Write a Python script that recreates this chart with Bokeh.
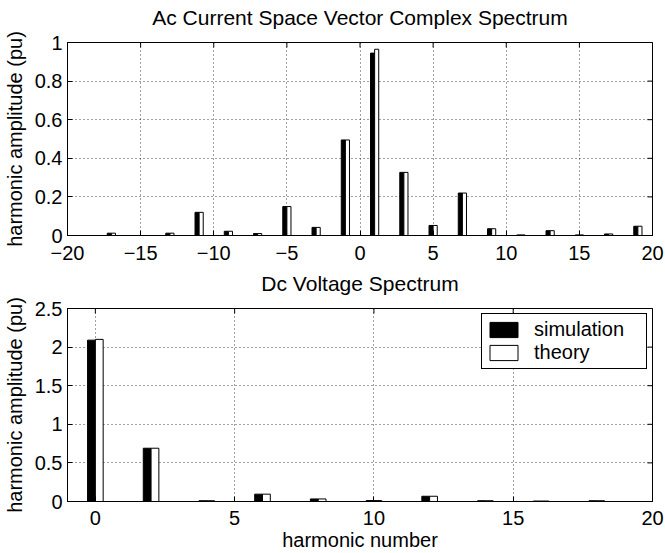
import math
from bokeh.plotting import figure
from bokeh.layouts import column
from bokeh.models import (ColumnDataSource, FixedTicker, Range1d, Legend, LegendItem,
                          LinearAxis, Title)
from bokeh.transform import dodge
from bokeh.embed import file_html
from bokeh.resources import INLINE

# ---- data: AC current space vector complex spectrum ----
ac_title = "Ac Current Space Vector Complex Spectrum"
ac_harm = [-17, -13, -11, -9, -7, -5, -3, -1, 1, 3, 5, 7, 9, 11, 13, 15, 17, 19]
ac_sim = [0.012, 0.012, 0.12, 0.022, 0.01, 0.15, 0.042, 0.495, 0.945, 0.327, 0.052, 0.22, 0.035, 0.003, 0.025, 0.003, 0.008, 0.048]
ac_theo = [0.012, 0.012, 0.12, 0.022, 0.01, 0.15, 0.042, 0.495, 0.965, 0.327, 0.052, 0.22, 0.035, 0.003, 0.025, 0.003, 0.008, 0.048]

# ---- data: DC voltage spectrum ----
dc_title = "Dc Voltage Spectrum"
dc_harm = [0, 2, 4, 6, 8, 10, 12, 14, 16, 18]
dc_sim = [2.09, 0.69, 0.01, 0.095, 0.033, 0.012, 0.068, 0.01, 0.006, 0.01]
dc_theo = [2.10, 0.69, 0.01, 0.095, 0.033, 0.012, 0.068, 0.01, 0.006, 0.01]

top_xticks = [-20, -15, -10, -5, 0, 5, 10, 15, 20]
top_xlabels = ["\u221220", "\u221215", "\u221210", "\u22125", "0", "5", "10", "15", "20"]
top_yticks = [0, 0.2, 0.4, 0.6, 0.8, 1]
top_ylabels = ["0", "0.2", "0.4", "0.6", "0.8", "1"]
bot_xticks = [0, 5, 10, 15, 20]
bot_xlabels = ["0", "5", "10", "15", "20"]
bot_yticks = [0, 0.5, 1, 1.5, 2, 2.5]
bot_ylabels = ["0", "0.5", "1", "1.5", "2", "2.5"]

FONT = "Liberation Sans"
BW = 0.28


def style(p, title, xticks, xlabels, yticks, ylabels, x_standoff):
    p.outline_line_color = "black"
    p.outline_line_alpha = 1
    p.background_fill_color = "white"
    p.border_fill_color = "white"
    for ax in p.xaxis + p.yaxis:
        ax.major_label_text_font = FONT
        ax.major_label_text_font_size = "20px"
        ax.major_label_text_color = "black"
        ax.axis_label_text_font = FONT
        ax.axis_label_text_font_size = "20px"
        ax.axis_label_text_font_style = "normal"
        ax.axis_label_text_color = "black"
        ax.axis_line_color = "black"
        ax.major_tick_line_color = "black"
        ax.major_tick_in = 5
        ax.major_tick_out = 0
        ax.minor_tick_line_color = None
    p.xaxis.ticker = FixedTicker(ticks=xticks)
    p.xaxis.major_label_overrides = {t: l for t, l in zip(xticks, xlabels)}
    p.yaxis.ticker = FixedTicker(ticks=yticks)
    p.yaxis.major_label_overrides = {t: l for t, l in zip(yticks, ylabels)}
    p.xaxis.major_label_standoff = x_standoff
    p.yaxis.major_label_standoff = 5
    p.yaxis.axis_label_standoff = 6
    p.xaxis.axis_label_standoff = 1
    p.xaxis.axis_label_text_line_height = 0.9
    p.xgrid.ticker = FixedTicker(ticks=xticks)
    p.ygrid.ticker = FixedTicker(ticks=yticks)
    for g in (p.xgrid, p.ygrid):
        g.grid_line_color = "black"
        g.grid_line_alpha = 0.75
        g.grid_line_dash = "1 3"
        g.grid_line_width = 1
    xr, yr = p.x_range, p.y_range
    # box-style tick marks on the top and right frame edges
    p.scatter(x=xticks, y=[yr.end] * len(xticks), marker="dash", angle=math.pi / 2,
              size=10, line_color="black", line_width=1)
    p.scatter(x=[xr.end] * len(yticks), y=yticks, marker="dash",
              size=10, line_color="black", line_width=1)
    # invisible spacer between frame and title, then the title itself
    spacer = LinearAxis(ticker=FixedTicker(ticks=xticks[:1]), major_tick_out=12,
                        major_tick_in=0, minor_tick_out=0, minor_tick_in=0,
                        axis_line_color=None, major_tick_line_color=None,
                        minor_tick_line_color=None, major_label_text_color=None,
                        major_label_text_font_size="1px", major_label_standoff=0)
    p.add_layout(spacer, "above")
    p.add_layout(Title(text=title, text_font=FONT, text_font_size="21px",
                       text_font_style="normal", align="center", vertical_align="top",
                       standoff=0, text_color="black"), "above")


# ---- top figure ----
src_ac = ColumnDataSource(dict(x=ac_harm, sim=ac_sim, theo=ac_theo))
p1 = figure(width=664, height=268, output_backend="svg", toolbar_location=None,
            title=None, x_range=Range1d(-20, 20), y_range=Range1d(0, 1),
            min_border_left=65, min_border_right=12, min_border_top=42, min_border_bottom=33)
p1.vbar(x=dodge("x", -BW / 2, range=p1.x_range), top="sim", width=BW, bottom=0,
        source=src_ac, fill_color="black", line_color="black")
p1.vbar(x=dodge("x", BW / 2, range=p1.x_range), top="theo", width=BW, bottom=0,
        source=src_ac, fill_color="white", line_color="black")
p1.yaxis.axis_label = "harmonic amplitude (pu)"
style(p1, ac_title, top_xticks, top_xlabels, top_yticks, top_ylabels, 10)

# ---- bottom figure ----
src_dc = ColumnDataSource(dict(x=dc_harm, sim=dc_sim, theo=dc_theo))
p2 = figure(width=664, height=285, output_backend="svg", toolbar_location=None,
            title=None, x_range=Range1d(-1, 20), y_range=Range1d(0, 2.5),
            min_border_left=65, min_border_right=12, min_border_top=40, min_border_bottom=51)
r_sim = p2.vbar(x=dodge("x", -BW / 2, range=p2.x_range), top="sim", width=BW, bottom=0,
                source=src_dc, fill_color="black", line_color="black")
r_theo = p2.vbar(x=dodge("x", BW / 2, range=p2.x_range), top="theo", width=BW, bottom=0,
                 source=src_dc, fill_color="white", line_color="black")
p2.yaxis.axis_label = "harmonic amplitude (pu)"
p2.xaxis.axis_label = "harmonic number"
style(p2, dc_title, bot_xticks, bot_xlabels, bot_yticks, bot_ylabels, 9)

legend = Legend(items=[LegendItem(label="simulation", renderers=[r_sim]),
                       LegendItem(label="theory", renderers=[r_theo])],
                location="top_right", label_text_font=FONT, label_text_font_size="20px",
                label_text_color="black", glyph_width=35, glyph_height=19, label_height=19,
                label_width=108, border_line_color="black", border_line_alpha=1, spacing=0,
                padding=4, margin=5, label_standoff=13, background_fill_alpha=1)
p2.add_layout(legend)

layout = column(p1, p2, spacing=0)
open("out.html", "w").write(file_html(layout, INLINE))
